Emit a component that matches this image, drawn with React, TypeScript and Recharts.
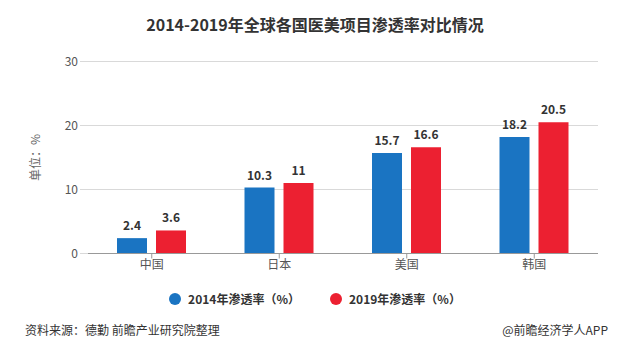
import React from 'react';
import { BarChart, Bar, XAxis, YAxis, CartesianGrid, LabelList } from 'recharts';

const categories = ['中国', '日本', '美国', '韩国'];
const values2014 = [2.4, 10.3, 15.7, 18.2];
const values2019 = [3.6, 11, 16.6, 20.5];
const yTicks = [0, 10, 20, 30];
const seriesNames = ['2014年渗透率（%）', '2019年渗透率（%）'];

const data = categories.map((c, i) => ({ name: c, a: values2014[i], b: values2019[i] }));

const FONT = '"Noto Sans CJK SC", "Noto Sans", sans-serif';
const BLUE = '#1a74c2';
const RED = '#ec2031';

export default function App() {
  return (
    <div style={{ position: 'absolute', left: 0, top: 0, width: 630, height: 345, background: '#fff', fontFamily: FONT }}>
      <div style={{ position: 'absolute', top: 12, left: 0, width: 630, textAlign: 'center', fontSize: 16, fontWeight: 'bold', color: '#333' }}>
        2014-2019年全球各国医美项目渗透率对比情况
      </div>
      <BarChart
        width={630}
        height={345}
        data={data}
        margin={{ top: 61.5, right: 32, bottom: 61.5, left: 0 }}
        barSize={30}
        barGap={9}
      >
        <CartesianGrid vertical={false} stroke="#d9d9d9" />
        <XAxis
          dataKey="name"
          tick={{ fontSize: 12, fill: '#555', fontFamily: FONT }}
          tickLine={{ stroke: '#999' }}
          tickSize={5}
          axisLine={{ stroke: '#999' }}
          height={30}
        />
        <YAxis
          width={88}
          domain={[0, 30]}
          ticks={yTicks}
          tick={{ fontSize: 12, fill: '#555', fontFamily: FONT }}
          tickLine={{ stroke: '#d9d9d9' }}
          tickSize={8}
          axisLine={false}
          label={{ value: '单位：%', angle: -90, position: 'insideLeft', offset: 36, style: { fontSize: 12, fill: '#666', fontFamily: FONT, textAnchor: 'middle' } }}
        />
        <Bar dataKey="a" fill={BLUE} isAnimationActive={false}>
          <LabelList dataKey="a" position="top" offset={8} style={{ fontSize: 12, fontWeight: 'bold', fill: '#333', fontFamily: FONT }} />
        </Bar>
        <Bar dataKey="b" fill={RED} isAnimationActive={false}>
          <LabelList dataKey="b" position="top" offset={8} style={{ fontSize: 12, fontWeight: 'bold', fill: '#333', fontFamily: FONT }} />
        </Bar>
      </BarChart>
      <div style={{ position: 'absolute', top: 290, left: 0, width: 630, display: 'flex', justifyContent: 'center', gap: 30, fontSize: 12, fontWeight: 'bold', color: '#333' }}>
        {[BLUE, RED].map((col, i) => (
          <div key={i} style={{ display: 'flex', alignItems: 'center' }}>
            <span style={{ display: 'inline-block', width: 12, height: 12, borderRadius: 6, background: col, marginRight: 7 }} />
            <span>{seriesNames[i]}</span>
          </div>
        ))}
      </div>
      <div style={{ position: 'absolute', top: 321, left: 25, fontSize: 12, color: '#333' }}>资料来源：德勤 前瞻产业研究院整理</div>
      <div style={{ position: 'absolute', top: 321, right: 22, fontSize: 12, color: '#333' }}>@前瞻经济学人APP</div>
    </div>
  );
}
